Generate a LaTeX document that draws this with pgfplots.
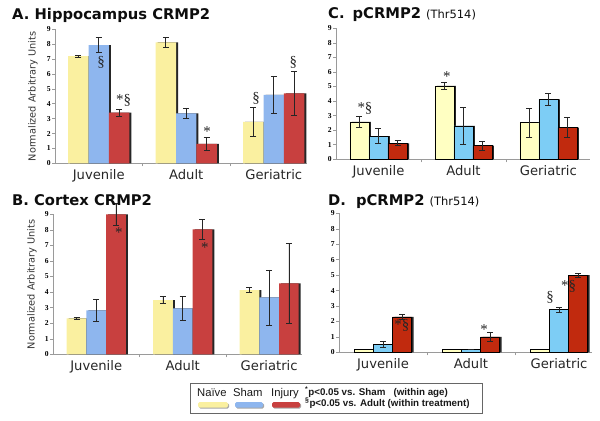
\documentclass[border=0pt]{standalone}
\usepackage{fontspec}
\usepackage{pgfplots}
\usepackage{pgfplotstable}
\pgfplotsset{compat=1.18}
\setmainfont{DejaVu Sans}
\newfontfamily\libsans{Liberation Sans}
\newfontfamily\libserif{Liberation Serif}

\definecolor{yellowA}{HTML}{FAF0A0}
\definecolor{blueA}{HTML}{8EB6EE}
\definecolor{redA}{HTML}{C8403F}
\definecolor{yellowC}{HTML}{FFFFC2}
\definecolor{blueC}{HTML}{7DCDF5}
\definecolor{redC}{HTML}{C12A0E}
\definecolor{axisgray}{HTML}{9A9A9A}

% x = age group (0 Juvenile, 1 Adult, 2 Geriatric); n/s/i = Naive/Sham/Injury, *e = error
\pgfplotstableread{
x n ne s se i ie
0 7.20 0.05 7.93 0.50 3.40 0.24
1 8.13 0.34 3.36 0.36 1.30 0.45
2 2.79 0.97 4.59 1.23 4.70 1.49
}\dataA
\pgfplotstableread{
x n ne s se i ie
0 2.31 0.07 2.82 0.73 9.00 0.68
1 3.49 0.23 2.95 0.78 8.03 0.64
2 4.13 0.15 3.66 1.77 4.56 2.57
}\dataB
\pgfplotstableread{
x n ne s se i ie
0 2.58 0.36 1.60 0.50 1.10 0.17
1 5.05 0.26 2.29 1.26 0.94 0.32
2 2.52 1.00 4.12 0.38 2.17 0.68
}\dataC
\pgfplotstableread{
x n ne s se i ie
0 0.19 0.00 0.50 0.18 2.30 0.18
1 0.21 0.00 0.17 0.00 1.00 0.32
2 0.20 0.00 2.77 0.16 4.99 0.13
}\dataD

\tikzset{ann/.style={font=\libserif\fontsize{15}{15}\selectfont, text=black!85, inner sep=0pt}}
\pgfplotsset{
  panel/.style={
    scale only axis, ybar, ymin=0, ymax=9, ytick={0,1,...,9},
    axis x line*=bottom, axis y line*=left,
    axis line style={axisgray, line width=0.5pt},
    xtick={0,1,2}, xticklabels={Juvenile,Adult,Geriatric},
    major x tick style={draw=none},
    minor xtick={0.5,1.5}, minor x tick style={axisgray, line width=0.5pt},
    minor tick length=3bp, major tick length=3bp, tick align=outside,
    ytick style={axisgray, line width=0.5pt},
    /pgf/number format/assume math mode=true,
    yticklabel style={font=\libserif\bfseries\fontsize{7.6}{8}\selectfont, inner sep=1.2bp, text=black},
    xticklabel style={font=\fontsize{13.2}{14}\selectfont, text=black!85},
    clip=false,
  },
  ylab/.style={ylabel={Normalized Arbitrary Units},
    every axis y label/.style={at={(axis description cs:#1,0.5)}, rotate=90, anchor=center,
      font=\fontsize{9.8}{10}\selectfont, text=black!80}},
  eb/.style={error bars/.cd, y dir=both, y explicit,
    error bar style={line width=0.65pt, black!85},
    error mark options={rotate=90, mark size=3bp, line width=0.65pt, black!85}},
  shadow/.style={fill=black!85, draw=none, forget plot, xshift=2bp},
}

\begin{document}
\begin{tikzpicture}
\useasboundingbox (0,0) rectangle (600bp,-421bp);

% ---------- A ----------
\begin{axis}[panel, ylab=-0.0873, at={(55bp,-163.3bp)}, anchor=south west,
  width=252bp, height=134bp, xmin=-0.5, xmax=2.38, bar width=0.234]
\addplot[shadow, bar shift=-0.234] table[x=x,y=n]{\dataA};
\addplot[fill=yellowA, draw=none, bar shift=-0.234, eb] table[x=x,y=n,y error=ne]{\dataA};
\addplot[shadow, bar shift=0] table[x=x,y=s]{\dataA};
\addplot[fill=blueA, draw=none, bar shift=0, eb] table[x=x,y=s,y error=se]{\dataA};
\addplot[shadow, bar shift=0.234] table[x=x,y=i]{\dataA};
\addplot[fill=redA, draw=none, bar shift=0.234, eb] table[x=x,y=i,y error=ie]{\dataA};
\node[ann] at (axis cs:0.026,6.8) {\S};
\node[ann] at (axis cs:0.283,4.2) {*\S};
\node[ann] at (axis cs:1.237,2.15) {*};
\node[ann] at (axis cs:1.797,4.38) {\S};
\node[ann] at (axis cs:2.224,6.8) {\S};
\end{axis}

% ---------- B ----------
\begin{axis}[panel, ylab=-0.0843, at={(53bp,-354.3bp)}, anchor=south west,
  width=249bp, height=140bp, xmin=-0.5, xmax=2.38, bar width=0.228]
\addplot[shadow, bar shift=-0.228] table[x=x,y=n]{\dataB};
\addplot[fill=yellowA, draw=none, bar shift=-0.228, eb] table[x=x,y=n,y error=ne]{\dataB};
\addplot[shadow, bar shift=0] table[x=x,y=s]{\dataB};
\addplot[fill=blueA, draw=none, bar shift=0, eb] table[x=x,y=s,y error=se]{\dataB};
\addplot[shadow, bar shift=0.228] table[x=x,y=i]{\dataB};
\addplot[fill=redA, draw=none, bar shift=0.228, eb] table[x=x,y=i,y error=ie]{\dataB};
\node[ann] at (axis cs:0.263,7.85) {*};
\node[ann] at (axis cs:1.257,6.88) {*};
\end{axis}

% ---------- C ----------
\begin{axis}[panel, at={(336bp,-159.3bp)}, anchor=south west,
  width=254bp, height=131bp, xmin=-0.5, xmax=2.49, bar width=0.224]
\addplot[shadow, bar shift=-0.224] table[x=x,y=n]{\dataC};
\addplot[fill=yellowC, draw=black, line width=0.5pt, bar shift=-0.224, eb] table[x=x,y=n,y error=ne]{\dataC};
\addplot[shadow, bar shift=0] table[x=x,y=s]{\dataC};
\addplot[fill=blueC, draw=black, line width=0.5pt, bar shift=0, eb] table[x=x,y=s,y error=se]{\dataC};
\addplot[shadow, bar shift=0.224] table[x=x,y=i]{\dataC};
\addplot[fill=redC, draw=black, line width=0.5pt, bar shift=0.224, eb] table[x=x,y=i,y error=ie]{\dataC};
\node[ann] at (axis cs:-0.159,3.5) {*\S};
\node[ann] at (axis cs:0.806,5.65) {*};
\end{axis}

% ---------- D ----------
\begin{axis}[panel, at={(339bp,-352.3bp)}, anchor=south west,
  width=253bp, height=139bp, xmin=-0.5, xmax=2.375, bar width=0.216]
\addplot[shadow, bar shift=-0.216] table[x=x,y=n]{\dataD};
\addplot[fill=yellowC, draw=black, line width=0.5pt, bar shift=-0.216] table[x=x,y=n]{\dataD};
\addplot[shadow, bar shift=0] table[x=x,y=s]{\dataD};
\addplot[fill=blueC, draw=black, line width=0.5pt, bar shift=0, eb] table[x=x,y=s,y error=se]{\dataD};
\addplot[shadow, bar shift=0.216] table[x=x,y=i]{\dataD};
\addplot[fill=redC, draw=black, line width=0.5pt, bar shift=0.216, eb] table[x=x,y=i,y error=ie]{\dataD};
\node[ann] at (axis cs:0.215,1.72) {*\S};
\node[ann] at (axis cs:1.148,1.5) {*};
\node[ann] at (axis cs:1.898,3.57) {\S};
\node[ann] at (axis cs:2.11,4.3) {*\S};
\end{axis}

% ---------- titles ----------
\begin{scope}[every node/.style={anchor=base west, inner sep=0pt, text=black!95}]
\node[font=\bfseries\fontsize{14.8}{15}\selectfont] at (12bp,-19.5bp) {A.\ Hippocampus CRMP2};
\node[font=\bfseries\fontsize{14.8}{15}\selectfont] at (12bp,-205bp) {B.\ Cortex CRMP2};
\node[font=\bfseries\fontsize{14.8}{15}\selectfont] at (328bp,-18.5bp) {C.\hspace{8bp}pCRMP2 {\mdseries\fontsize{11.5}{12}\selectfont (Thr514)}};
\node[font=\bfseries\fontsize{14.8}{15}\selectfont] at (328bp,-205bp) {D.\hspace{10bp}pCRMP2 {\mdseries\fontsize{11.5}{12}\selectfont (Thr514)}};
\end{scope}

% ---------- legend ----------
\draw[black!60, line width=0.6pt] (190bp,-383bp) rectangle (482bp,-413bp);
\begin{scope}[every node/.style={anchor=base west, inner sep=0pt, text=black!90}]
\node[font=\libsans\fontsize{11.3}{12}\selectfont] at (197bp,-396.7bp) {Naïve};
\node[font=\libsans\fontsize{11.3}{12}\selectfont] at (233bp,-396.7bp) {Sham};
\node[font=\libsans\fontsize{11.3}{12}\selectfont] at (271bp,-396.7bp) {Injury};
\node[font=\libsans\bfseries\fontsize{9.8}{11}\selectfont] at (305bp,-395bp) {\textsuperscript{*}p<0.05 vs. Sham\ \ \ (within age)};
\node[font=\libsans\bfseries\fontsize{9.8}{11}\selectfont] at (305bp,-406.5bp) {\textsuperscript{\S}p<0.05 vs. Adult (within treatment)};
\end{scope}
\fill[black!35, rounded corners=1.5bp] (199bp,-403bp) rectangle (229bp,-408.5bp);
\fill[yellowA, rounded corners=1.5bp] (198bp,-402bp) rectangle (228bp,-407.5bp);
\fill[black!35, rounded corners=1.5bp] (236bp,-403bp) rectangle (264bp,-408.5bp);
\fill[blueA, rounded corners=1.5bp] (235bp,-402bp) rectangle (263bp,-407.5bp);
\fill[black!35, rounded corners=1.5bp] (273bp,-403bp) rectangle (301bp,-408.5bp);
\fill[redA, rounded corners=1.5bp] (272bp,-402bp) rectangle (300bp,-407.5bp);
\end{tikzpicture}
\end{document}
